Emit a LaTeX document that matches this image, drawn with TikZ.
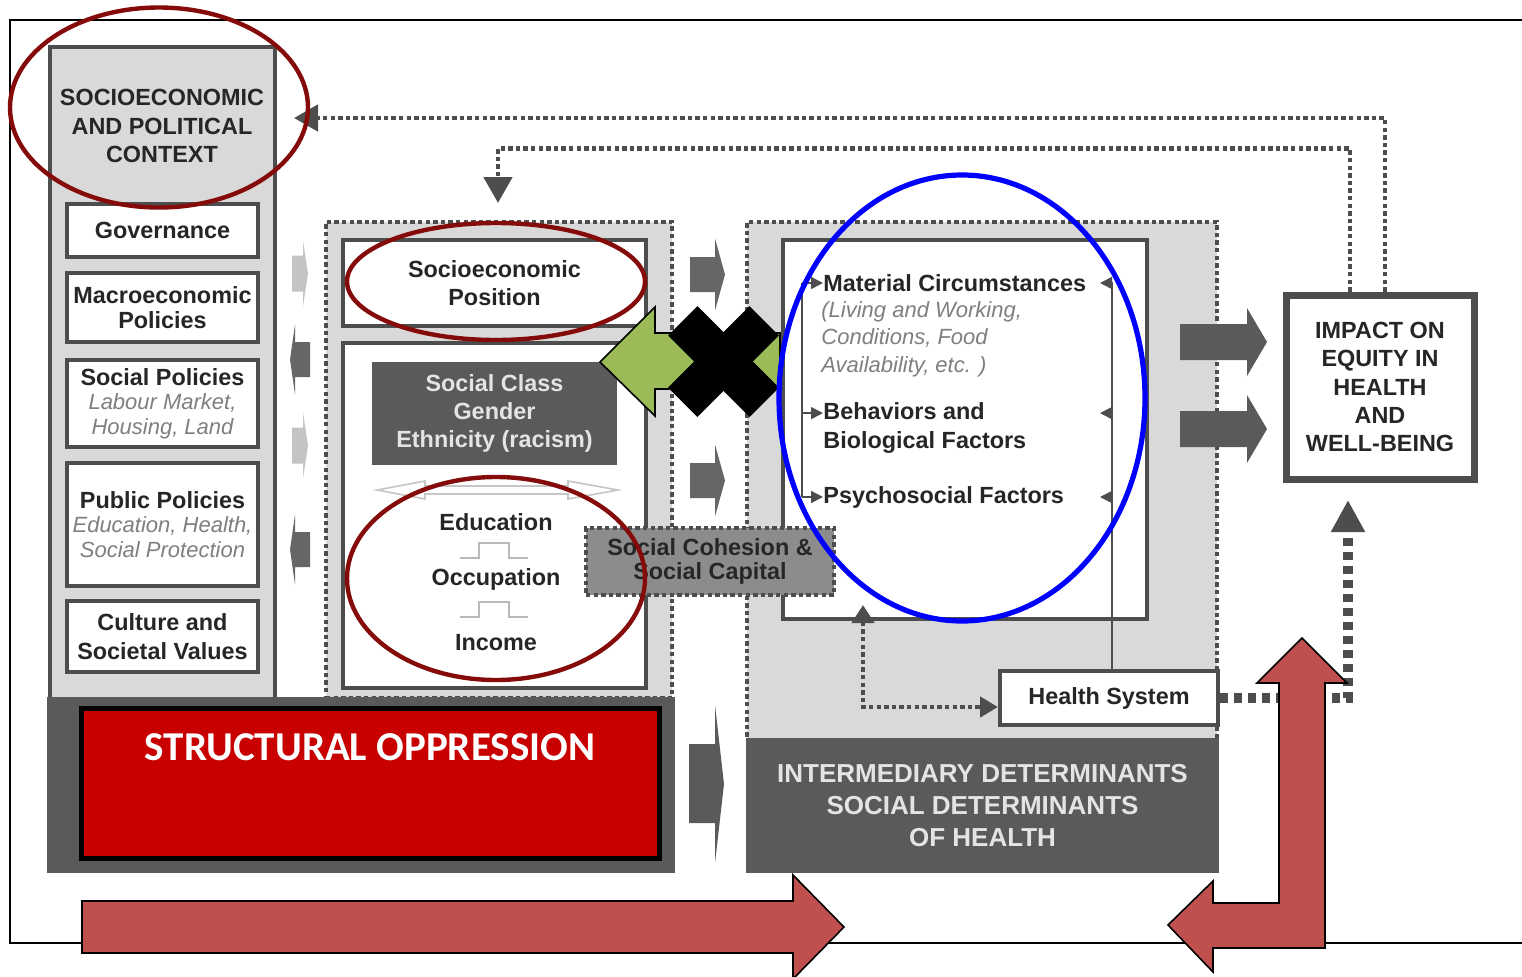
\documentclass[tikz,border=0pt]{standalone}
\usepackage{fontspec}
\setmainfont{Liberation Sans}
\newfontfamily\oppfont{Carlito}
\usetikzlibrary{arrows.meta,fit,positioning}

\definecolor{panelgray}{HTML}{D9D9D9}
\definecolor{edgegray}{HTML}{4D4D4D}
\definecolor{bandgray}{HTML}{5A5A5A}
\definecolor{arrgray}{HTML}{666666}
\definecolor{lightarr}{HTML}{C4C4C4}
\definecolor{inkgray}{HTML}{262626}
\definecolor{notegray}{HTML}{7F7F7F}
\definecolor{bandtext}{HTML}{E4E4E4}
\definecolor{cohesion}{HTML}{8C8C8C}
\definecolor{oppred}{HTML}{C80000}
\definecolor{ringred}{HTML}{850A0A}
\definecolor{arrowred}{HTML}{C0504D}
\definecolor{leafgreen}{HTML}{9BBB59}

\newcommand\labfont{\fontsize{11.7}{14.2}\selectfont\bfseries}
\newcommand\policyfont{\fontsize{11.7}{12.2}\selectfont\bfseries}
\newcommand\bandfont{\fontsize{13}{15.8}\selectfont\bfseries}
\newcommand\ital{\fontsize{11}{12.2}\selectfont\mdseries\itshape\color{notegray}}

\tikzset{
  lbl/.style={inner sep=0pt, align=center, text=inkgray, font=\labfont},
  wbox/.style={draw=edgegray, fill=white, line width=1.6pt, inner sep=0pt, align=center, text=inkgray, font=\labfont},
  size/.style 2 args={minimum width=#1, minimum height=#2},
  notetxt/.style={inner sep=0pt, align=left, text=notegray, font=\fontsize{11}{13.8}\selectfont\itshape},
  dotreg/.style={fill=panelgray, draw=edgegray, line width=2.4pt, dash pattern=on 2.2pt off 1.6pt},
  fback/.style={draw=edgegray, line width=2.4pt, dash pattern=on 2.2pt off 1.6pt},
  fbold/.style={draw=edgegray, line width=5pt, dash pattern=on 4pt off 3pt},
  thinln/.style={draw=edgegray, line width=0.8pt},
  stepline/.style={draw=gray!55, line width=0.8pt},
  annot/.style={draw=ringred, line width=2.2pt},
  redarrow/.style={fill=arrowred, draw=black, line width=0.8pt},
}

\begin{document}
\begin{tikzpicture}[x=0.5pt, y=-0.5pt]
\useasboundingbox (0,0) rectangle (1522,976);
\fill[white] (0,0) rectangle (1522,976);
% outer frame
\draw[line width=0.9pt] (1530,20) -- (10,20) -- (10,943) -- (1530,943);

% context column
\node[fill=panelgray, draw=edgegray, line width=2pt, inner sep=0pt, fit={(50,47) (275,700)}] (ctx) {};
\node[lbl] (ctxt) at (162,126) {SOCIOECONOMIC\\AND POLITICAL\\CONTEXT};
\node[wbox, size={95.5pt}{26.5pt}] (gov) at (162.5,230.5) {Governance};
\node[wbox, size={95.5pt}{34.5pt}, font=\policyfont] (macro) at (162.5,307.5) {Macroeconomic\\Policies};
\node[wbox, size={95.5pt}{43.5pt}, font=\policyfont] (socpol) at (162.5,403.5) {Social Policies\\{\ital Labour Market,}\\{\ital Housing, Land}};
\node[wbox, size={95.5pt}{61.5pt}, font=\policyfont] (pubpol) at (162.5,524.5) {Public Policies\\{\ital Education, Health,}\\{\ital Social Protection}};
\node[wbox, size={95.5pt}{35.5pt}] (cult) at (162.5,636.5) {Culture and\\Societal Values};

% socioeconomic position column
\node[dotreg, inner sep=0pt, fit={(326,222) (672,698)}] (sepreg) {};
\node[fill=bandgray, inner sep=0pt, fit={(47,697) (675,873)}] (lband) {};
\node[wbox, size={151.5pt}{43pt}] (sep) at (494.5,283) {Socioeconomic\\Position};
\node[wbox, inner sep=0pt, fit={(343,343) (646,688)}] (strat) {};
\node[lbl, fill=bandgray, text=bandtext, size={122.5pt}{51.5pt}] (scg) at (494.5,413.5) {Social Class\\Gender\\Ethnicity (racism)};
\draw[draw=gray!45, fill=white, line width=0.8pt] (377,490) -- (425,481) -- (425,486) -- (568,486) -- (568,481)
  -- (618,490) -- (568,499) -- (568,494) -- (425,494) -- (425,499) -- cycle;
\node[lbl] (edu) at (496,522) {Education};
\node[lbl] (occ) at (496,579) {Occupation};
\node[lbl] (inc) at (496,643) {Income};
\foreach \yy in {558,617}
  \draw[stepline] (460,\yy) -| (479,\yy-15) -| (509,\yy) -- (528,\yy);

% intermediary determinants column
\node[dotreg, inner sep=0pt, fit={(747,222) (1217,740)}] (intreg) {};
\node[lbl, fill=bandgray, text=bandtext, font=\bandfont, size={236.5pt}{67.5pt}] (rband) at (982.5,805.5) {INTERMEDIARY DETERMINANTS\\SOCIAL DETERMINANTS\\OF HEALTH};
\node[wbox, inner sep=0pt, fit={(783,240) (1147,619)}] (circ) {};
\node[wbox, line width=2pt, size={109pt}{27pt}] (hs) at (1109,698) {Health System};
\node[lbl, anchor=west] (matc) at (823,283) {Material Circumstances};
\node[notetxt, anchor=north west] (matd) at (821,301) {(Living and Working,\\Conditions, Food\\Availability, etc. )};
\node[lbl, anchor=west, align=left, font=\fontsize{11.7}{14.5}\selectfont\bfseries] (behv) at (823,427.5) {Behaviors and\\Biological Factors};
\node[lbl, anchor=west] (psyc) at (823,497) {Psychosocial Factors};
\coordinate (behvtop) at ([yshift=7.2pt]behv.west);
\coordinate (lrail) at (802,0);
\draw[thinln] (lrail |- matc.west) -- (lrail |- psyc.west);
\draw[thinln] ([xshift=1.5pt]hs.north) -- ([xshift=1.5pt]hs.north |- matc.west);
\foreach \m in {matc.west, behvtop, psyc.west} {
  \draw[thinln, -{Triangle[length=6pt,width=6pt]}] (lrail |- \m) -- (\m);
  \draw[thinln, -{Triangle[length=6pt,width=6pt]}] ([xshift=1.5pt]hs.north |- \m) -- ++(-12,0);
}
\coordinate (hsfoot) at (863,605);
\draw[fback, {Triangle[length=9pt,width=11pt]}-{Triangle[length=9pt,width=10pt]}] (hsfoot) |- ([yshift=-4.5pt]hs.west);

% social cohesion sits across both columns
\node[dotreg, lbl, fill=cohesion, font=\fontsize{11.7}{11.6}\selectfont\bfseries, size={124pt}{33.5pt}] (coh) at (710,561.5) {Social Cohesion \&\\Social Capital};

% impact
\node[wbox, line width=3.5pt, size={94pt}{92pt}] (impact) at (1380,387) {IMPACT ON\\EQUITY IN\\HEALTH\\AND\\WELL-BEING};
\coordinate (impin) at (1348,500);
\draw[fbold, -{Triangle[length=16pt,width=16pt]}] (hs.east) -| (impin);

% feedback loops
\coordinate (ctxin) at (294,118);
\coordinate (sepin) at (498,203);
\draw[fback, -{Triangle[length=12pt,width=13pt]}] ([xshift=2.5pt]impact.north) |- (ctxin);
\draw[fback, -{Triangle[length=13pt,width=14pt]}] ([xshift=-15pt]impact.north) -- ++(0,-143) -| (sepin);

% block arrows
\foreach \yc in {273.5,445.5}
  \fill[lightarr] (292,\yc-18) -- (303,\yc-18) -- (303,\yc-33) -- (308,\yc) -- (303,\yc+33) -- (303,\yc+18) -- (292,\yc+18) -- cycle;
\foreach \yc in {359.5,549.5}
  \fill[arrgray] (310,\yc-17.5) -- (295,\yc-17.5) -- (295,\yc-35) -- (290,\yc) -- (295,\yc+35) -- (295,\yc+17.5) -- (310,\yc+17.5) -- cycle;
\foreach \yc in {274.5,480.5}
  \fill[arrgray] (690,\yc-17.5) -- (715,\yc-17.5) -- (715,\yc-36) -- (725,\yc) -- (715,\yc+36) -- (715,\yc+17.5) -- (690,\yc+17.5) -- cycle;
\fill[bandgray] (689,744) -- (715,744) -- (715,705) -- (724,784) -- (715,863) -- (715,823) -- (689,823) -- cycle;
\foreach \yc in {342,429}
  \fill[bandgray] (1180,\yc-18) -- (1247,\yc-18) -- (1247,\yc-34) -- (1267,\yc) -- (1247,\yc+34) -- (1247,\yc+18) -- (1180,\yc+18) -- cycle;

% structural oppression
\node[fill=oppred, draw=black, line width=2.5pt, inner sep=0pt, fit={(81,708) (659,858)}] (opp) {};
\node[text=white, inner sep=0pt, font=\oppfont\fontsize{20.5}{24}\selectfont\bfseries] (opptxt) at (opp.north |- 0,747) {STRUCTURAL OPPRESSION};
\draw[redarrow] (82,901) -- (793,901) -- (793,875) -- (844,927) -- (793,979) -- (793,953) -- (82,953) -- cycle;
\draw[redarrow] (1302,638) -- (1347,683) -- (1325,683) -- (1325,948) -- (1213,948) -- (1213,972) -- (1168,925)
  -- (1213,881) -- (1213,903) -- (1279,903) -- (1279,683) -- (1257,683) -- cycle;

% annotations
\draw[annot] (159,107.5) ellipse [x radius=149, y radius=100];
\draw[annot] (496,281.5) ellipse [x radius=149, y radius=58.5];
\draw[annot] (496,578.5) ellipse [x radius=149, y radius=101.5];
\draw[redarrow, fill=leafgreen] (780,333) -- (655,333) -- (655,307) -- (600,362) -- (655,416) -- (655,389) -- (780,389) -- cycle;
\draw[line width=20.8pt, line cap=butt] (682.75,320.75) -- (764.25,402.25);
\draw[line width=20.8pt, line cap=butt] (682.75,402.25) -- (764.25,320.75);
\draw[draw=blue, line width=2.6pt] (962,398) ellipse [x radius=183, y radius=223];
\end{tikzpicture}
\end{document}
